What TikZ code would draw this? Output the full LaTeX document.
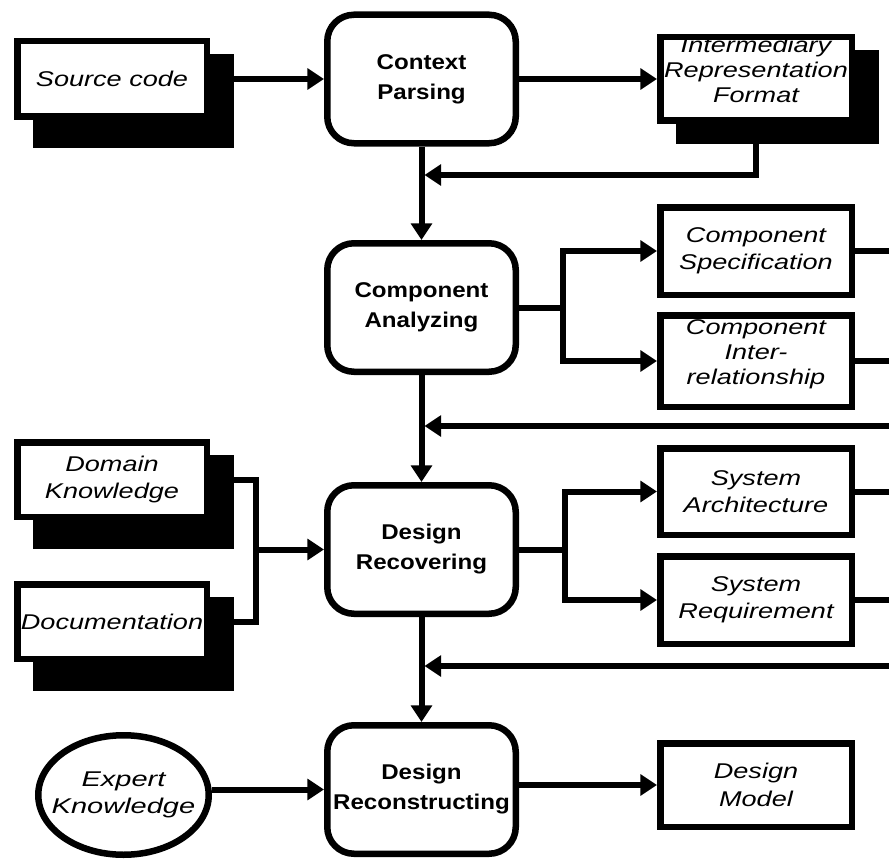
\documentclass[tikz,border=0pt]{standalone}
\usepackage{fontspec}
\setmainfont{Liberation Sans}
\usepackage{graphicx}
\usetikzlibrary{arrows.meta,shapes.geometric,calc,backgrounds}

% one drawing unit = one pixel of the 889 x 867 layout
\newcommand\pxu{0.75pt}
% horizontally widened lettering
\newcommand\itx[1]{\scalebox{1.27}[1]{#1}}
\newcommand\itw[1]{\scalebox{1.36}[1]{#1}}
\newcommand\bfx[1]{\scalebox{1.13}[1]{#1}}
% solid black drop shadow behind a data box; #2 = how far it reaches below
\newcommand\dropshadow[2]{\fill ($(#1.north west)+(18.75,15.75)$) rectangle ($(#1.south east)+(24.25,#2)$);}

\tikzset{
  border/.style={draw, line width=4.875pt, fill=white, inner sep=0pt, align=center},
  proc/.style={border, rounded corners=20pt, minimum width=188.5*\pxu, minimum height=128.5*\pxu,
    font=\bfseries\fontsize{16}{22.5}\selectfont},
  dbox/.style={border, minimum width=191.5*\pxu, font=\itshape\fontsize{16}{20.5}\selectfont},
  lbox/.style={dbox, minimum width=189.5*\pxu},
  cliptext/.style={inner sep=0pt, align=center, font=\itshape\fontsize{16}{18.75}\selectfont},
  wire/.style={line width=4.5pt},
  conn/.style={wire, -{Triangle[length=12.5pt,width=15.5pt]}},
}

\begin{document}
\begin{tikzpicture}[x=0.75pt, y=-0.75pt]
\useasboundingbox (0,0) rectangle (889,867);

% process steps (main column)
\node[proc] (cp)  at (421.5,79)    {\bfx{Context}\\\bfx{Parsing}};
\node[proc] (ca)  at (421.5,307.5) {\bfx{Component}\\\bfx{Analyzing}};
\node[proc] (dr)  at (421.5,549.5) {\bfx{Design}\\\bfx{Recovering}};
\node[proc] (drc) at (421.5,789.5) {\bfx{Design}\\\bfx{Reconstructing}};

% inputs (left column)
\node[lbox, minimum height=75.5*\pxu] (src) at (112,79)    {\itx{Source code}};
\node[lbox, minimum height=74.5*\pxu] (dom) at (112,479.5) {\itx{Domain}\\\itx{Knowledge}};
\node[lbox, minimum height=74.5*\pxu] (doc) at (112,621.5) {\itx{Documentation}};
\node[border, ellipse, minimum width=170.5*\pxu, minimum height=119.5*\pxu] (ek) at (123.5,795) {};
\node[inner sep=0pt, align=center, font=\itshape\fontsize{16}{20}\selectfont] (ektext) at (ek.center)
  {\itw{Expert}\\\itw{Knowledge}};

% outputs (right column)
\node[dbox, minimum height=83.5*\pxu] (irf) at (756,79) {};
\node[dbox, minimum height=87.5*\pxu] (cs)  at (756,251)   {\itx{Component}\\\itx{Specification}};
\node[dbox, minimum height=91.5*\pxu] (ci)  at (756,361) {};
\node[dbox, minimum height=86.5*\pxu] (sa)  at (756,491.5) {\itx{System}\\\itx{Architecture}};
\node[dbox, minimum height=87.5*\pxu] (sr)  at (756,600)   {\itx{System}\\\itx{Requirement}};
\node[dbox, minimum height=83.5*\pxu] (dm)  at (756,785)   {\itx{Design}\\\itx{Model}};

% lettering that runs into the top border, cut off at the box edge
\begin{scope}
  \clip (irf.north west) rectangle (irf.south east);
  \node[cliptext] (irftext) at (756,70) {\itx{Intermediary}\\\itx{Representation}\\\itx{Format}};
\end{scope}
\begin{scope}
  \clip (ci.north west) rectangle (ci.south east);
  \node[cliptext] (citext) at (756,354) {\itx{Component}\\\itx{Inter-}\\\itx{relationship}};
\end{scope}

% drop shadows
\begin{pgfonlayer}{background}
  \dropshadow{src}{28.25}
  \dropshadow{irf}{20.25}
  \dropshadow{dom}{29.25}
  \dropshadow{doc}{29.25}
\end{pgfonlayer}

% junction and return points
\coordinate (rim) at (895,0);
\coordinate (fbA) at (424.5,175);
\coordinate (fbB) at (424.5,426);
\coordinate (fbC) at (424.5,666);
\coordinate (brA) at (563,307.5);
\coordinate (brB) at (565,549.5);
\coordinate (mrg) at (256,549.5);

% context parsing
\draw[conn] (src.east) -- (cp.west);
\draw[conn] (cp.east) -- (irf.west);
\draw[conn] (cp.south) -- (ca.north);
\draw[conn] (irf.south) |- (fbA);

% component analyzing
\draw[wire] (ca.east) -- (brA);
\draw[conn] (brA) |- (cs.west);
\draw[conn] (brA) |- (ci.west);
\draw[wire] (cs.east) -- (cs.east -| rim);
\draw[wire] (ci.east) -- (ci.east -| rim);
\draw[conn] (fbB -| rim) -- (fbB);
\draw[conn] (ca.south) -- (dr.north);

% design recovering
\draw[wire] (dom.east) -| (mrg) |- (doc.east);
\draw[conn] (mrg) -- (dr.west);
\draw[wire] (dr.east) -- (brB);
\draw[conn] (brB) |- (sa.west);
\draw[conn] (brB) |- (sr.west);
\draw[wire] (sa.east) -- (sa.east -| rim);
\draw[wire] (sr.east) -- (sr.east -| rim);
\draw[conn] (fbC -| rim) -- (fbC);
\draw[conn] (dr.south) -- (drc.north);

% design reconstructing
\draw[conn] (ek.east |- drc.west) -- (drc.west);
\draw[conn] (drc.east |- dm.west) -- (dm.west);
\end{tikzpicture}
\end{document}
